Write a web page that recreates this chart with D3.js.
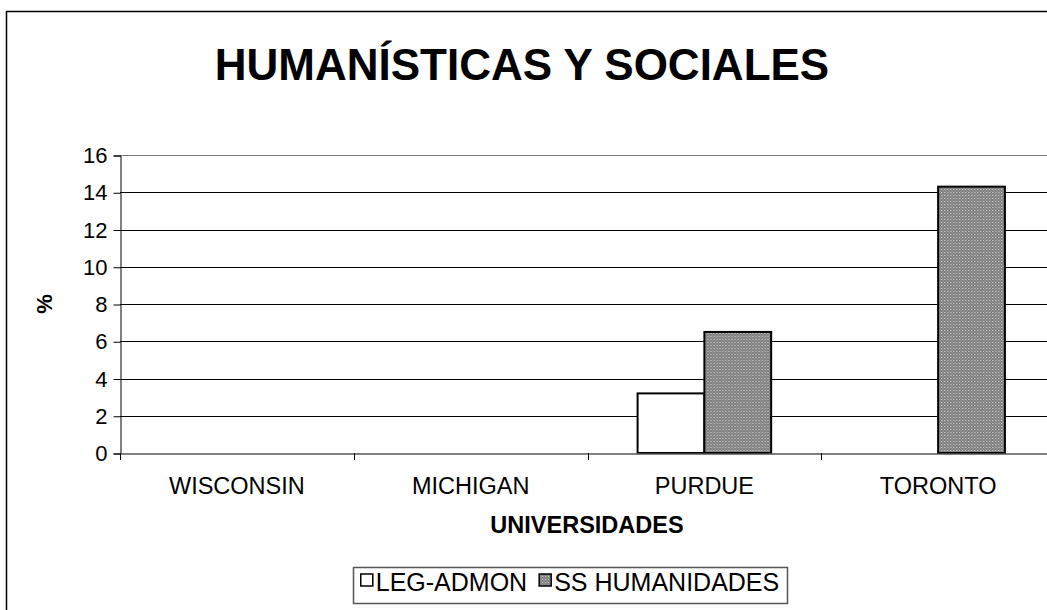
<!DOCTYPE html>
<html lang="es">
<head>
<meta charset="UTF-8">
<title>HUMANÍSTICAS Y SOCIALES</title>
<script src="https://d3js.org/d3.v7.min.js"></script>
<style>
body { margin: 0; background: #fff; }
svg text { font-family: "Liberation Sans", Arial, sans-serif; fill: #000; }
</style>
</head>
<body>
<script>
// datos
var categories = ["WISCONSIN", "MICHIGAN", "PURDUE", "TORONTO"];
var seriesNames = ["LEG-ADMON", "SS HUMANIDADES"];
var legAdmon = [0, 0, 3.2, 0];
var ssHumanidades = [0, 0, 6.5, 14.3];
var yTicks = [0, 2, 4, 6, 8, 10, 12, 14, 16];

var W = 1047, H = 610;
var plotLeft = 120, plotRight = 1055, plotTop = 155, plotBottom = 453;

var svg = d3.select("body").append("svg")
  .attr("width", W).attr("height", H);

// patron de relleno gris punteado
var defs = svg.append("defs");
var pat = defs.append("pattern")
  .attr("id", "dots").attr("patternUnits", "userSpaceOnUse")
  .attr("width", 3).attr("height", 3);
pat.append("rect").attr("width", 3).attr("height", 3).attr("fill", "#7a7a7a");
pat.append("rect").attr("x", 0).attr("y", 0).attr("width", 1).attr("height", 1).attr("fill", "#e0e0e0");
pat.append("rect").attr("x", 1.5).attr("y", 1.5).attr("width", 1).attr("height", 1).attr("fill", "#c8c8c8");

// borde exterior
svg.append("rect")
  .attr("x", 6.5).attr("y", 11.5)
  .attr("width", W + 20).attr("height", H + 20)
  .attr("fill", "none").attr("stroke", "#000").attr("stroke-width", 1.5);

svg.append("text")
  .attr("x", 522).attr("y", 80)
  .attr("text-anchor", "middle")
  .style("font-size", "44px").style("font-weight", "bold")
  .text("HUMANÍSTICAS Y SOCIALES");

var y = d3.scaleLinear().domain([0, 16]).range([plotBottom, plotTop]);
var x0 = d3.scaleBand().domain(categories).range([plotLeft, plotRight]);
var bw = x0.bandwidth() / 3.5;
var x1 = d3.scaleBand().domain(seriesNames)
  .range([bw * 0.75, bw * 2.75]);

// lineas de cuadricula
svg.append("g").selectAll("line")
  .data(yTicks.filter(function(d) { return d > 0; }))
  .enter().append("line")
  .attr("x1", plotLeft).attr("x2", plotRight)
  .attr("y1", function(d) { return Math.round(y(d)) + 0.5; })
  .attr("y2", function(d) { return Math.round(y(d)) + 0.5; })
  .attr("stroke", function(d) { return d === 16 ? "#777" : "#000"; })
  .attr("stroke-width", 1);

// eje Y
var yAxis = d3.axisLeft(y).tickValues(yTicks).tickSize(7).tickPadding(6);
var gy = svg.append("g")
  .attr("transform", "translate(" + (plotLeft + 0.5) + ",0.5)")
  .call(yAxis);
gy.select(".domain").attr("stroke", "#000");
gy.selectAll("text").style("font-size", "22px");

// barras
var rows = categories.map(function(c, i) {
  return { cat: c, vals: [legAdmon[i], ssHumanidades[i]] };
});
var groups = svg.append("g").selectAll("g")
  .data(rows).enter().append("g")
  .attr("transform", function(d) { return "translate(" + x0(d.cat) + ",0)"; });
groups.selectAll("rect")
  .data(function(d) {
    return d.vals.map(function(v, j) { return { name: seriesNames[j], v: v }; })
      .filter(function(e) { return e.v > 0; });
  })
  .enter().append("rect")
  .attr("x", function(d) { return x1(d.name); })
  .attr("y", function(d) { return y(d.v); })
  .attr("width", x1.bandwidth())
  .attr("height", function(d) { return plotBottom - y(d.v); })
  .attr("fill", function(d) { return d.name === seriesNames[0] ? "#fff" : "url(#dots)"; })
  .attr("stroke", "#000").attr("stroke-width", 2);

// eje X
var xAxis = d3.axisBottom(x0).tickSize(0).tickPadding(24);
var gx = svg.append("g")
  .attr("transform", "translate(0," + (plotBottom + 0.5) + ")")
  .call(xAxis);
gx.select(".domain").attr("stroke", "#555").attr("stroke-width", 1.5);
gx.selectAll("text").style("font-size", "23.5px");
svg.append("g").selectAll("line")
  .data(categories).enter().append("line")
  .attr("x1", function(d) { return Math.round(x0(d)) + 0.5; })
  .attr("x2", function(d) { return Math.round(x0(d)) + 0.5; })
  .attr("y1", plotBottom).attr("y2", plotBottom + 7)
  .attr("stroke", "#000");

// titulos de ejes
svg.append("text")
  .attr("x", 587).attr("y", 533)
  .attr("text-anchor", "middle")
  .style("font-size", "23.5px").style("font-weight", "bold")
  .text("UNIVERSIDADES");
svg.append("text")
  .attr("transform", "translate(52,304) rotate(-90)")
  .attr("text-anchor", "middle")
  .style("font-size", "22px").style("font-weight", "bold")
  .text("%");

// leyenda
var lg = svg.append("g");
var legFont = 25;
var legItems = lg.selectAll("g").data(seriesNames).enter().append("g");
legItems.append("rect")
  .attr("width", 12).attr("height", 12).attr("y", -17)
  .attr("fill", function(d, i) { return i === 0 ? "#fff" : "url(#dots)"; })
  .attr("stroke", "#000").attr("stroke-width", 1.5);
legItems.append("text")
  .attr("x", 15)
  .style("font-size", legFont + "px")
  .text(function(d) { return d; });
var cx = 0, widths = [];
legItems.each(function() { widths.push(this.getBBox().width); });
var totalW = d3.sum(widths) + 12 * (widths.length - 1);
var startX = 570 - totalW / 2;
legItems.attr("transform", function(d, i) {
  var t = "translate(" + (startX + cx) + ",591)";
  cx += widths[i] + 12;
  return t;
});
lg.insert("rect", ":first-child")
  .attr("x", Math.round(startX - 8) + 0.5).attr("y", 567.5)
  .attr("width", Math.round(totalW + 16)).attr("height", 36)
  .attr("fill", "#fff").attr("stroke", "#555").attr("stroke-width", 1.5);
</script>
</body>
</html>
